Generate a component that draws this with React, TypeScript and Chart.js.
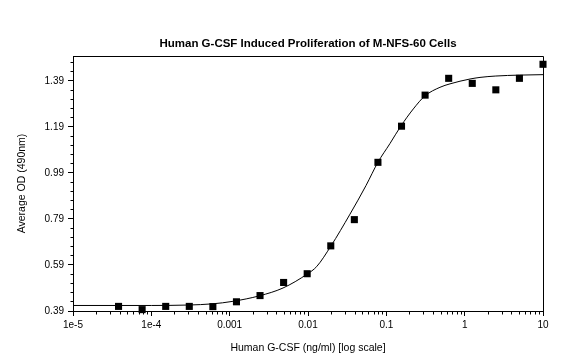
import React, { useEffect, useRef } from 'react';
import { Chart, registerables } from 'chart.js';

Chart.register(...registerables);

// Measured points (two-fold dilution series, ng/ml) and average OD
const concentrations = [
  10, 5, 2.5, 1.25, 0.625, 0.3125, 0.15625, 0.078125, 0.0390625, 0.01953125,
  0.009765625, 0.0048828125, 0.00244140625, 0.001220703125, 0.0006103515625,
  0.00030517578125, 0.000152587890625, 0.0000762939453125, 0.00003814697265625,
];
const odValues = [
  1.462, 1.401, 1.351, 1.379, 1.401, 1.328, 1.193, 1.036, 0.787, 0.673,
  0.552, 0.514, 0.457, 0.43, 0.409, 0.41, 0.41, 0.396, 0.41,
];

// Fitted curve
const fitX = [
  1e-5, 1e-4, 3e-4, 6e-4, 0.0011, 0.0024, 0.0048, 0.0098, 0.0129, 0.0195,
  0.0344, 0.055, 0.078, 0.111, 0.153, 0.221, 0.312, 0.484, 0.65, 1.17, 1.57,
  2.5, 5, 10,
];
const fitY = [
  0.414, 0.414, 0.416, 0.421, 0.432, 0.456, 0.49, 0.551, 0.583, 0.671,
  0.811, 0.935, 1.036, 1.117, 1.193, 1.268, 1.325, 1.362, 1.377, 1.398, 1.405,
  1.411, 1.415, 1.417,
];

const xTickValues = [1e-5, 1e-4, 1e-3, 1e-2, 1e-1, 1, 10];
const xTickLabels = ['1e-5', '1e-4', '0.001', '0.01', '0.1', '1', '10'];
const yTickValues = [0.39, 0.59, 0.79, 0.99, 1.19, 1.39];
const yTickLabels = ['0.39', '0.59', '0.79', '0.99', '1.19', '1.39'];

const Y_MIN = 0.39;
const Y_MAX = 1.498;
const X_MIN = 1e-5;
const X_MAX = 10;

const TITLE = 'Human G-CSF Induced Proliferation of M-NFS-60 Cells';
const X_TITLE = 'Human G-CSF (ng/ml) [log scale]';
const Y_TITLE = 'Average OD (490nm)';

const FONT = "'Liberation Sans', Arial, sans-serif";

const al = (v: number) => Math.floor(v) + 0.5;

const framePlugin = {
  id: 'frame',
  afterDraw(chart: any) {
    const { ctx, chartArea: a, scales } = chart;
    const xs = scales.x;
    const ys = scales.y;
    ctx.save();
    ctx.strokeStyle = '#000';
    ctx.lineWidth = 1;
    ctx.beginPath();
    // top & right border
    ctx.moveTo(al(a.left), al(a.top));
    ctx.lineTo(al(a.right), al(a.top));
    ctx.lineTo(al(a.right), al(a.bottom));
    // x minor ticks
    for (let e = -5; e < 1; e++) {
      for (let m = 2; m <= 9; m++) {
        const px = al(xs.getPixelForValue(m * Math.pow(10, e)));
        ctx.moveTo(px, al(a.bottom));
        ctx.lineTo(px, al(a.bottom) + 3);
      }
    }
    // y minor ticks
    for (let i = 1; Y_MIN + i * 0.04 <= Y_MAX; i++) {
      if (i % 5 === 0) continue;
      const py = al(ys.getPixelForValue(Y_MIN + i * 0.04));
      ctx.moveTo(al(a.left) - 3, py);
      ctx.lineTo(al(a.left), py);
    }
    ctx.stroke();

    // chart title, centred over the plot area
    ctx.fillStyle = '#000';
    ctx.font = `bold 11.5px ${FONT}`;
    ctx.textAlign = 'center';
    ctx.textBaseline = 'middle';
    ctx.fillText(TITLE, (a.left + a.right) / 2, 44);
    ctx.restore();
  },
};

export default function App() {
  const ref = useRef<HTMLCanvasElement | null>(null);

  useEffect(() => {
    document.body.style.margin = '0';
    const canvas = ref.current;
    if (!canvas) return;

    const points = concentrations.map((c, i) => ({ x: c, y: odValues[i] }));
    const curve = fitX.map((c, i) => ({ x: c, y: fitY[i] }));

    const chart = new Chart(canvas, {
      type: 'scatter',
      data: {
        datasets: [
          {
            label: 'Observed',
            data: points,
            showLine: false,
            pointStyle: 'rect',
            pointRadius: 5,
            pointBackgroundColor: '#000',
            pointBorderColor: '#000',
            pointBorderWidth: 0,
            clip: false,
            order: 0,
          } as any,
          {
            label: 'Fit',
            data: curve,
            showLine: true,
            pointRadius: 0,
            borderColor: '#000',
            borderWidth: 1,
            cubicInterpolationMode: 'monotone',
            order: 1,
          } as any,
        ],
      },
      options: {
        animation: false,
        responsive: false,
        maintainAspectRatio: false,
        events: [],
        layout: { padding: { left: 0, right: 21, top: 56, bottom: 0 } },
        plugins: {
          legend: { display: false },
          tooltip: { enabled: false },
          title: { display: false },
        },
        scales: {
          x: {
            type: 'logarithmic',
            min: X_MIN,
            max: X_MAX,
            afterFit: (s: any) => {
              s.height = 51;
            },
            afterBuildTicks: (s: any) => {
              s.ticks = xTickValues.map((v) => ({ value: v }));
            },
            ticks: {
              callback: (_v: any, i: number) => xTickLabels[i],
              color: '#000',
              font: { family: FONT, size: 10 },
              maxRotation: 0,
              autoSkip: false,
              padding: 3,
            },
            grid: {
              display: true,
              drawOnChartArea: false,
              drawTicks: true,
              tickLength: 5,
              color: '#000',
            },
            border: { display: true, color: '#000' },
            title: {
              display: true,
              text: X_TITLE,
              color: '#000',
              font: { family: FONT, size: 10.5 },
              padding: { top: 0, bottom: 8 },
            },
          } as any,
          y: {
            type: 'linear',
            min: Y_MIN,
            max: Y_MAX,
            afterFit: (s: any) => {
              s.width = 73;
            },
            afterBuildTicks: (s: any) => {
              s.ticks = yTickValues.map((v) => ({ value: v }));
            },
            ticks: {
              callback: (_v: any, i: number) => yTickLabels[i],
              color: '#000',
              font: { family: FONT, size: 10 },
              autoSkip: false,
              padding: 4,
            },
            grid: {
              display: true,
              drawOnChartArea: false,
              drawTicks: true,
              tickLength: 5,
              color: '#000',
            },
            border: { display: true, color: '#000' },
            title: {
              display: true,
              text: Y_TITLE,
              color: '#000',
              font: { family: FONT, size: 10.5 },
              padding: { top: 16, bottom: 0 },
            },
          } as any,
        },
      },
      plugins: [framePlugin],
    });

    return () => chart.destroy();
  }, []);

  return (
    <div style={{ width: 564, height: 362, background: '#fff' }}>
      <canvas ref={ref} width={564} height={362} style={{ display: 'block' }} />
    </div>
  );
}
